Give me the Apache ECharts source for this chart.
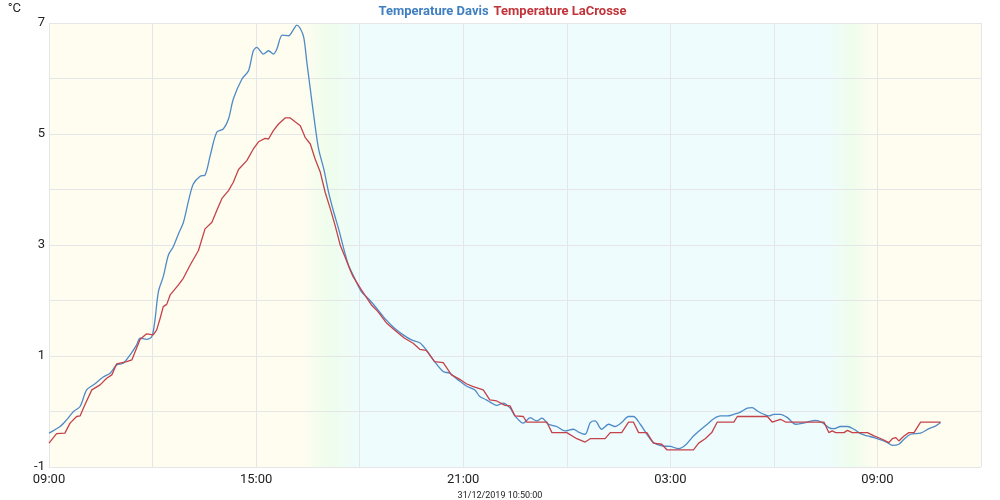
<!DOCTYPE html>
<html>
<head>
<meta charset="utf-8">
<script src="https://cdn.jsdelivr.net/npm/echarts@6/dist/echarts.min.js"></script>
<style>
  html, body { margin: 0; padding: 0; background: #fff; }
  #container { width: 1000px; height: 500px; }
</style>
</head>
<body>
<div id="container"></div>
<script>
// hours after 09:00 on 30/12/2019
var davisHours = [0, 0.32, 0.51, 0.71, 0.9, 1.09, 1.29, 1.57, 1.77, 1.96, 2.15, 2.35, 2.54, 2.64, 2.83, 2.98,
    3.07, 3.17, 3.31, 3.46, 3.6, 3.75, 3.89, 4.04, 4.18, 4.38, 4.52, 4.67, 4.86, 5.05, 5.2, 5.34, 5.59, 5.78,
    5.92, 6.02, 6.21, 6.36, 6.5, 6.6, 6.76, 6.94, 7.09, 7.18, 7.28, 7.38, 7.47, 7.57, 7.67, 7.81, 7.96, 8.1,
    8.25, 8.39, 8.54, 8.68, 8.81, 9.05, 9.29, 9.53, 9.77, 10.01, 10.26, 10.5, 10.74, 10.93, 11.17, 11.42,
    11.61, 11.85, 12.09, 12.33, 12.48, 12.67, 12.78, 12.97, 13.16, 13.36, 13.5, 13.74, 13.94, 14.13, 14.28,
    14.47, 14.71, 14.95, 15.19, 15.34, 15.53, 15.68, 15.82, 16.01, 16.21, 16.4, 16.59, 16.79, 16.93, 17.13,
    17.32, 17.51, 17.75, 18.0, 18.24, 18.43, 18.67, 18.91, 19.07, 19.26, 19.45, 19.65, 19.84, 20.03, 20.23,
    20.37, 20.52, 20.71, 20.86, 21.0, 21.19, 21.39, 21.63, 21.77, 21.97, 22.21, 22.4, 22.59, 22.74, 22.93,
    23.13, 23.32, 23.51, 23.71, 23.9, 24.1, 24.29, 24.43, 24.62, 24.77, 24.96, 25.25, 25.49, 25.69, 25.83];
var davisTemps = [-0.39, -0.27, -0.15, 0.0, 0.09, 0.39, 0.48, 0.62, 0.69, 0.84, 0.87, 1.02, 1.2, 1.32, 1.3, 1.35,
    1.65, 2.16, 2.43, 2.82, 2.97, 3.2, 3.4, 3.79, 4.1, 4.24, 4.26, 4.61, 5.03, 5.09, 5.27, 5.63, 5.99, 6.14,
    6.5, 6.56, 6.44, 6.5, 6.44, 6.53, 6.78, 6.77, 6.89, 6.96, 6.9, 6.74, 6.29, 5.81, 5.33, 4.73, 4.37, 3.95,
    3.59, 3.29, 2.93, 2.63, 2.46, 2.16, 2.01, 1.83, 1.65, 1.5, 1.38, 1.29, 1.24, 1.11, 0.9, 0.72,
    0.69, 0.57, 0.46, 0.39, 0.27, 0.21, 0.17, 0.11, 0.15, 0.06, -0.08, -0.21, -0.11, -0.17, -0.12,
    -0.23, -0.27, -0.35, -0.32, -0.37, -0.41, -0.2, -0.17, -0.32, -0.23, -0.27, -0.2, -0.09, -0.09, -0.23,
    -0.41, -0.56, -0.62, -0.63, -0.67, -0.61, -0.44, -0.31, -0.23, -0.13, -0.08, -0.08, -0.05, -0.01, 0.06,
    0.07, 0.01, -0.05, -0.08, -0.05, -0.05, -0.11, -0.23, -0.22, -0.19, -0.16, -0.2, -0.29, -0.31, -0.27,
    -0.27, -0.32, -0.4, -0.44, -0.47, -0.51, -0.56, -0.61, -0.59, -0.5, -0.41, -0.39, -0.31, -0.26, -0.2];

var lacrosseHours = [0, 0.22, 0.46, 0.61, 0.8, 0.9, 1.04, 1.24, 1.48, 1.67, 1.82, 1.96, 2.25, 2.4, 2.64, 2.83,
    3.02, 3.12, 3.22, 3.31, 3.41, 3.51, 3.75, 3.89, 4.09, 4.33, 4.52, 4.72, 4.86, 5.01, 5.2, 5.34, 5.49, 5.73,
    5.92, 6.07, 6.26, 6.36, 6.5, 6.65, 6.84, 6.99, 7.13, 7.28, 7.42, 7.57, 7.71, 7.86, 8.0, 8.15, 8.29, 8.44,
    8.58, 8.73, 8.81, 9.05, 9.34, 9.53, 9.77, 10.01, 10.3, 10.55, 10.74, 10.93, 11.17, 11.42, 11.66, 11.9,
    12.09, 12.29, 12.58, 12.77, 12.97, 13.21, 13.36, 13.5, 13.74, 13.84, 14.42, 14.57, 15.0, 15.29, 15.53,
    15.68, 16.11, 16.26, 16.59, 16.79, 16.93, 17.08, 17.32, 17.51, 17.75, 17.9, 18.67, 18.82, 19.01, 19.2,
    19.36, 19.84, 19.94, 20.81, 20.95, 21.19, 21.34, 22.45, 22.59, 22.69, 22.79, 23.03, 23.13, 23.27, 23.71,
    23.9, 24.14, 24.33, 24.43, 24.53, 24.62, 24.77, 24.91, 25.06, 25.25, 25.83];
var lacrosseTemps = [-0.57, -0.4, -0.39, -0.21, -0.09, -0.08, 0.12, 0.39, 0.48, 0.6, 0.66, 0.86, 0.9, 0.93, 1.3, 1.4,
    1.38, 1.47, 1.68, 1.89, 1.93, 2.1, 2.28, 2.4, 2.64, 2.9, 3.29, 3.41, 3.62, 3.84, 3.98, 4.13, 4.36, 4.52,
    4.73, 4.86, 4.92, 4.91, 5.06, 5.18, 5.29, 5.29, 5.22, 5.15, 4.94, 4.82, 4.55, 4.31, 3.95, 3.65, 3.35, 2.99,
    2.78, 2.54, 2.43, 2.19, 1.92, 1.8, 1.6, 1.47, 1.32, 1.23, 1.12, 1.1, 0.9, 0.88, 0.66, 0.58,
    0.5, 0.45, 0.39, 0.21, 0.19, 0.11, 0.1, -0.08, -0.09, -0.19, -0.19, -0.38, -0.38, -0.49, -0.55,
    -0.49, -0.49, -0.38, -0.38, -0.19, -0.19, -0.38, -0.38, -0.57, -0.59, -0.69, -0.69, -0.57, -0.49, -0.38,
    -0.19, -0.19, -0.09, -0.09, -0.19, -0.14, -0.19, -0.19, -0.38, -0.35, -0.38, -0.38, -0.34, -0.38, -0.38,
    -0.44, -0.5, -0.56, -0.49, -0.47, -0.53, -0.44, -0.38, -0.38, -0.19, -0.19];

var seriesNames = ['Temperature Davis', 'Temperature LaCrosse'];
var startHour = 9;
var lastReading = '31/12/2019 10:50:00';

function pairs(xs, ys) {
    return xs.map(function (x, i) { return [x, ys[i]]; });
}
function clock(h) {
    var hh = (startHour + h) % 24;
    return (hh < 10 ? '0' : '') + hh + ':00';
}

var dom = document.getElementById('container');
var myChart = echarts.init(dom);
var option = {
    animation: false,
    textStyle: { fontFamily: 'Roboto' },
    legend: {
        top: 0,
        left: 'center',
        icon: 'none',
        itemWidth: 0,
        itemGap: 0,
        selectedMode: false,
        textStyle: { fontSize: 13, fontWeight: 'bold' },
        data: [
            { name: seriesNames[0], textStyle: { color: '#3f7fbf' } },
            { name: seriesNames[1], textStyle: { color: '#c0343a' } }
        ]
    },
    grid: {
        left: 49,
        right: 19,
        top: 23,
        bottom: 33,
        outerBoundsMode: 'none',
        show: true,
        borderWidth: 0,
        // day / night shading (sunset ~17:00, sunrise ~08:00)
        backgroundColor: new echarts.graphic.LinearGradient(0, 0, 1, 0, [
            { offset: 0, color: '#fefdf0' },
            { offset: 0.272, color: '#fefdf0' },
            { offset: 0.3, color: '#effdec' },
            { offset: 0.335, color: '#eefcfd' },
            { offset: 0.835, color: '#eefcfd' },
            { offset: 0.862, color: '#effdec' },
            { offset: 0.886, color: '#fefdf0' },
            { offset: 1, color: '#fefdf0' }
        ])
    },
    xAxis: {
        type: 'value',
        min: 0,
        max: 27,
        interval: 3,
        name: lastReading,
        nameLocation: 'middle',
        nameGap: 24,
        nameTextStyle: { fontSize: 9, color: '#222', padding: [0, 30, 0, 0] },
        axisLine: { show: false },
        axisTick: { show: false },
        axisLabel: {
            fontSize: 13,
            color: '#222',
            margin: 6,
            formatter: function (v) { return v % 6 === 0 ? clock(v) : ''; }
        },
        splitLine: { show: true, lineStyle: { color: '#e4e6e8', width: 1 } }
    },
    yAxis: {
        type: 'value',
        min: -1,
        max: 7,
        interval: 1,
        name: '°C',
        nameLocation: 'end',
        nameGap: 8,
        nameTextStyle: { fontSize: 13, color: '#222', align: 'right', padding: [0, 28, 0, 0] },
        axisLine: { show: false },
        axisTick: { show: false },
        axisLabel: {
            fontSize: 13,
            color: '#222',
            margin: 4,
            formatter: function (v) { return v % 2 !== 0 ? String(v) : ''; }
        },
        splitLine: { show: true, lineStyle: { color: '#e4e6e8', width: 1 } }
    },
    series: [
        {
            name: seriesNames[0],
            type: 'line',
            smooth: 0.3,
            showSymbol: false,
            color: '#4f8ac6',
            lineStyle: { width: 1.3 },
            data: pairs(davisHours, davisTemps)
        },
        {
            name: seriesNames[1],
            type: 'line',
            showSymbol: false,
            color: '#c4424a',
            lineStyle: { width: 1.3 },
            data: pairs(lacrosseHours, lacrosseTemps)
        }
    ]
};
myChart.setOption(option, true);
</script>
</body>
</html>
